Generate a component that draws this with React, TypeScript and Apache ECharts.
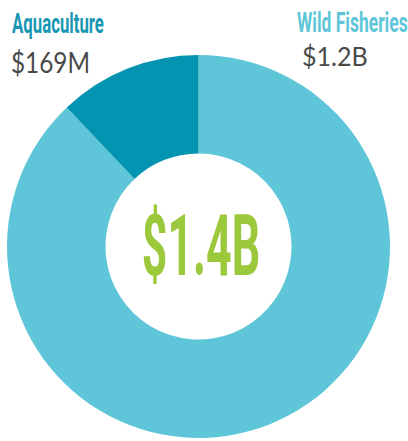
import React, { useEffect, useRef } from "react";
import * as echarts from "echarts";

const categories = ["Wild Fisheries", "Aquaculture"];
const values = [1231, 169];
const valueLabels = ["$1.2B", "$169M"];
const totalLabel = "$1.4B";
const colors = ["#5EC6D8", "#0294B0"];
const titleColors = ["#5EC6D8", "#1797B4"];

export default function App() {
  const ref = useRef<HTMLDivElement>(null);
  useEffect(() => {
    if (!ref.current) return;
    const chart = echarts.init(ref.current, undefined, { renderer: "svg" });
    chart.setOption({
      animation: false,
      backgroundColor: "#ffffff",
      series: [
        {
          type: "pie",
          center: [198.5, 246.5],
          radius: [93, 191.5],
          startAngle: 90,
          clockwise: true,
          label: { show: false },
          labelLine: { show: false },
          emphasis: { disabled: true },
          itemStyle: { borderWidth: 0 },
          data: categories.map((c, i) => ({
            name: c,
            value: values[i],
            itemStyle: { color: colors[i] },
          })),
        },
      ],
      graphic: [
        {
          type: "text",
          x: 12,
          y: 24,
          scaleX: 0.6,
          style: {
            text: categories[1],
            fontFamily: "Roboto",
            fontWeight: "bold",
            fontSize: 28,
            fill: titleColors[1],
            textAlign: "left",
            textVerticalAlign: "middle",
          },
        },
        {
          type: "text",
          x: 11,
          y: 62,
          scaleX: 0.87,
          style: {
            text: valueLabels[1],
            fontFamily: "Lato",
            fontWeight: 400,
            fontSize: 28,
            fill: "#4A4A4A",
            textAlign: "left",
            textVerticalAlign: "middle",
          },
        },
        {
          type: "text",
          x: 297,
          y: 22,
          scaleX: 0.625,
          style: {
            text: categories[0],
            fontFamily: "Roboto",
            fontWeight: "bold",
            fontSize: 28,
            fill: titleColors[0],
            textAlign: "left",
            textVerticalAlign: "middle",
          },
        },
        {
          type: "text",
          x: 302,
          y: 56,
          scaleX: 0.93,
          style: {
            text: valueLabels[0],
            fontFamily: "Lato",
            fontWeight: 400,
            fontSize: 27,
            fill: "#4A4A4A",
            textAlign: "left",
            textVerticalAlign: "middle",
          },
        },
        {
          type: "text",
          x: 201,
          y: 246,
          scaleX: 0.52,
          style: {
            text: totalLabel,
            fontFamily: "Roboto",
            fontWeight: "bold",
            fontSize: 86,
            fill: "#9CC83B",
            textAlign: "center",
            textVerticalAlign: "middle",
          },
        },
      ],
    });
    return () => chart.dispose();
  }, []);
  return <div ref={ref} style={{ width: 408, height: 441, position: "absolute", left: 0, top: 0 }} />;
}
